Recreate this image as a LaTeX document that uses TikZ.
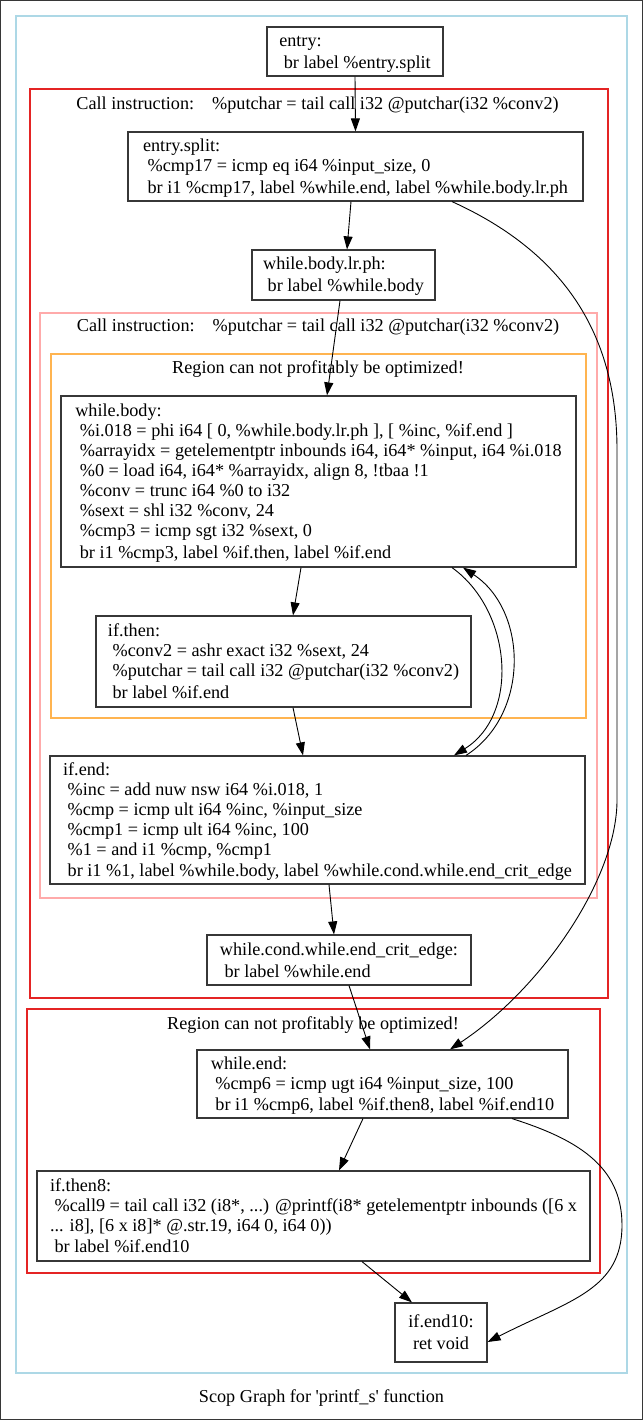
\documentclass[tikz,border=0pt]{standalone}
\usepackage{fontspec}
\setmainfont{Liberation Serif}
\usetikzlibrary{arrows.meta}
% leading blank of continuation lines, and a strut giving every block
% the full height of its first and last line
\newcommand\ind{\hspace*{4.6pt}}
\newcommand\lnstrut{\rule[-4.5pt]{0pt}{21pt}}
\definecolor{clblue}{RGB}{173,216,230}
\definecolor{clred}{RGB}{228,36,36}
\definecolor{clpink}{RGB}{255,170,170}
\definecolor{clorange}{RGB}{255,180,80}
\definecolor{boxline}{RGB}{55,55,55}
\begin{document}
\begin{tikzpicture}[x=1pt,y=-1pt,
  every node/.style={font=\fontsize{18.2}{20}\selectfont},
  block/.style={draw=boxline,line width=1.2pt,align=left,inner xsep=11pt,inner ysep=0pt,fill=white},
  cluster/.style={line width=1.2pt},
  arr/.style={-{Triangle[length=13pt,width=9pt]},line width=0.9pt,black}]
\useasboundingbox (0,0) rectangle (643,1420);
% outer frame
\draw[boxline,line width=1pt] (0.5,0.5) rectangle (642.5,1419.5);
% clusters
\draw[cluster,clblue] (16,16) rectangle (627,1373);
\draw[cluster,clred] (30,89) rectangle (608,998);
\draw[cluster,clpink] (40,313) rectangle (597,898);
\draw[cluster,clorange] (51,354) rectangle (586,718);
\draw[cluster,clred] (27,1009) rectangle (600,1273);
\node (lab1) at (317.5,105) {Call instruction:\hspace{18pt}\%putchar = tail call i32 @putchar(i32 \%conv2)};
\node (lab2) at (318,327) {Call instruction:\hspace{18pt}\%putchar = tail call i32 @putchar(i32 \%conv2)};
\node (lab3) at (318,369) {Region can not profitably be optimized!};
\node (lab4) at (313,1025) {Region can not profitably be optimized!};
% basic blocks
\node[block,minimum width=176pt,minimum height=49pt] (entry) at (355,51.5)
  {\lnstrut entry:\\\ind br label \%entry.split\lnstrut};
\node[block,minimum width=455pt,minimum height=69pt] (split) at (355.5,166.5)
  {\lnstrut entry.split:\\\ind\%cmp17 = icmp eq i64 \%input\_size, 0\\\ind br i1 \%cmp17, label \%while.end, label \%while.body.lr.ph\lnstrut};
\node[block,minimum width=183pt,minimum height=50pt] (lrph) at (343.5,275)
  {\lnstrut while.body.lr.ph:\\\ind br label \%while.body\lnstrut};
\node[block,minimum width=515pt,minimum height=171pt] (wbody) at (318.5,481.5)
  {\lnstrut while.body:\\
   \ind\%i.018 = phi i64 [ 0, \%while.body.lr.ph ], [ \%inc, \%if.end ]\\
   \ind\%arrayidx = getelementptr inbounds i64, i64* \%input, i64 \%i.018\\
   \ind\%0 = load i64, i64* \%arrayidx, align 8, !tbaa !1\\
   \ind\%conv = trunc i64 \%0 to i32\\
   \ind\%sext = shl i32 \%conv, 24\\
   \ind\%cmp3 = icmp sgt i32 \%sext, 0\\
   \ind br i1 \%cmp3, label \%if.then, label \%if.end\lnstrut};
\node[block,minimum width=375pt,minimum height=91pt] (ifthen) at (283.5,661.5)
  {\lnstrut if.then:\\
   \ind\%conv2 = ashr exact i32 \%sext, 24\\
   \ind\%putchar = tail call i32 @putchar(i32 \%conv2)\\
   \ind br label \%if.end\lnstrut};
\node[block,minimum width=535pt,minimum height=128pt] (ifend) at (317.5,820)
  {\lnstrut if.end:\\
   \ind\%inc = add nuw nsw i64 \%i.018, 1\\
   \ind\%cmp = icmp ult i64 \%inc, \%input\_size\\
   \ind\%cmp1 = icmp ult i64 \%inc, 100\\
   \ind\%1 = and i1 \%cmp, \%cmp1\\
   \ind br i1 \%1, label \%while.body, label \%while.cond.while.end\_crit\_edge\lnstrut};
\node[block,minimum width=264pt,minimum height=50pt] (crit) at (339,960)
  {\lnstrut while.cond.while.end\_crit\_edge:\\\ind br label \%while.end\lnstrut};
\node[block,minimum width=371pt,minimum height=68pt] (wend) at (382.5,1084)
  {\lnstrut while.end:\\
   \ind\%cmp6 = icmp ugt i64 \%input\_size, 100\\
   \ind br i1 \%cmp6, label \%if.then8, label \%if.end10\lnstrut};
\node[block,minimum width=553pt,minimum height=90pt] (ifthen8) at (313.5,1216)
  {\lnstrut if.then8:\\
   \ind\%call9 = tail call i32 (i8*, ...) @printf(i8* getelementptr inbounds ([6 x\\
   ... i8], [6 x i8]* @.str.19, i64 0, i64 0))\\
   \ind br label \%if.end10\lnstrut};
\node[block,minimum width=92pt,minimum height=59pt] (ifend10) at (441,1332.5)
  {\lnstrut if.end10:\\\ind ret void\lnstrut};
% caption
\node (caption) at (321.5,1398.5) {Scop Graph for \textquotesingle printf\_s\textquotesingle{} function};
% control-flow edges
\draw[arr] (entry.south) -- (split.north);
\draw[arr] ([xshift=-4.5pt]split.south) -- ([xshift=3.5pt]lrph.north);
\draw[arr] ([xshift=-3.5pt]lrph.south) -- ([xshift=8.5pt]wbody.north);
\draw[arr] ([xshift=-17.5pt]wbody.south) -- ([xshift=9.5pt]ifthen.north);
\draw[arr] ([xshift=9.5pt]ifthen.south) -- ([xshift=-14.5pt]ifend.north);
\draw[arr] ([xshift=11.5pt]ifend.south) -- ([xshift=-5pt]crit.north);
\draw[arr] ([xshift=10pt]crit.south) -- ([xshift=-12.5pt]wend.north);
\draw[arr] ([xshift=-19.5pt]wend.south) -- ([xshift=25.5pt]ifthen8.north);
\draw[arr] ([xshift=48.5pt]ifthen8.south) -- ([xshift=-29pt]ifend10.north);
% loop edges between while.body and if.end
\draw[arr] ([xshift=133.5pt]wbody.south) .. controls +(60,43) and +(66,-41) .. ([xshift=136.5pt]ifend.north);
\draw[arr] ([xshift=148.5pt]ifend.north) .. controls +(64,-41) and +(65,43) .. ([xshift=144.5pt]wbody.south);
% long edges to while.end and if.end10
\draw[arr] ([xshift=96.5pt]split.south) .. controls +(108,49) and +(0,-120) .. (617,450)
  -- (617,800) .. controls (617,880) and (540,990) .. ([xshift=67.5pt]wend.north);
\draw[arr] ([xshift=129.5pt]wend.south) .. controls +(63,20) and +(0,-60) .. (622,1225)
  .. controls (622,1290) and (570,1300) .. ([yshift=-9.5pt]ifend10.east);
\end{tikzpicture}
\end{document}
